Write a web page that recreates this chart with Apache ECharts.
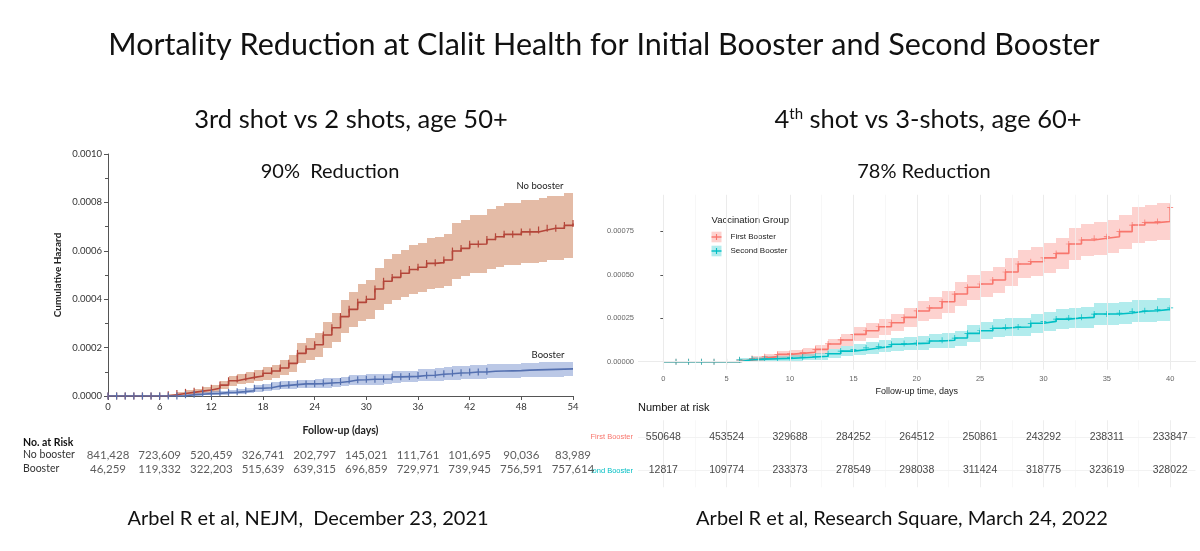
<!DOCTYPE html>
<html><head><meta charset="utf-8">
<script src="https://cdn.jsdelivr.net/npm/echarts@6/dist/echarts.min.js"></script>
<style>html,body{margin:0;padding:0;background:#fff}#c{width:1200px;height:551px}</style>
</head><body><div id="c"></div>
<script>
// ---------------- DATA ----------------
// Left panel (3rd shot vs 2 shots, age 50+): cumulative hazard per day 0..54
const leftDays = [0,1,2,3,4,5,6,7,8,9,10,11,12,13,14,15,16,17,18,19,20,21,22,23,24,25,26,27,28,29,30,31,32,33,34,35,36,37,38,39,40,41,42,43,44,45,46,47,48,49,50,51,52,53,54];
const noBoosterHazard = [0,0,0,0,0,0,0,0.000005,0.00001,0.000015,0.00002,0.000025,0.000032,0.000045,0.000063,0.00007,0.000077,0.000083,0.000094,0.000103,0.000116,0.000135,0.000176,0.000194,0.000212,0.000252,0.000282,0.000328,0.000358,0.000387,0.0004,0.000442,0.000474,0.00049,0.000507,0.000523,0.000532,0.000548,0.000551,0.000562,0.000599,0.00061,0.000627,0.000628,0.000647,0.000658,0.000668,0.000668,0.000678,0.000678,0.000686,0.000693,0.000693,0.000705,0.000713];
const noBoosterLower = [0,0,0,0,0,0,0,0.000001,0.000003,0.000006,0.00001,0.000013,0.000018,0.000028,0.000043,0.000049,0.000055,0.00006,0.000068,0.000075,0.000085,0.0001,0.000135,0.00015,0.000163,0.000197,0.000222,0.00026,0.000285,0.00031,0.00032,0.000355,0.00038,0.000395,0.00041,0.000422,0.00043,0.000443,0.000446,0.000455,0.000484,0.000494,0.000507,0.000508,0.000523,0.000532,0.00054,0.00054,0.000548,0.000548,0.000555,0.00056,0.00056,0.00057,0.000578];
const noBoosterUpper = [0,0,0,0,0,0,0.000002,0.00001,0.000017,0.000024,0.00003,0.000037,0.000046,0.000062,0.000083,0.000091,0.0001,0.000107,0.00012,0.00013,0.000147,0.00017,0.000218,0.000238,0.00026,0.000307,0.000342,0.000396,0.00043,0.000464,0.00048,0.000528,0.000566,0.000585,0.000604,0.000624,0.000634,0.000653,0.000656,0.000669,0.000714,0.000726,0.000747,0.000748,0.000771,0.000784,0.000796,0.000796,0.000808,0.000808,0.000817,0.000826,0.000826,0.00084,0.000848];
const boosterHazard = [0,0,0,0,0,0,0,0,0,0.000005,0.000007,0.00001,0.000011,0.000014,0.000015,0.000018,0.000022,0.000032,0.000034,0.000041,0.000044,0.000047,0.00005,0.00005,0.000051,0.000054,0.000056,0.00006,0.000066,0.000067,0.000069,0.000069,0.00007,0.000079,0.00008,0.000081,0.000085,0.000086,0.00009,0.000092,0.000095,0.000096,0.000099,0.000099,0.000102,0.000103,0.000104,0.000105,0.000107,0.000108,0.000109,0.00011,0.000111,0.000112,0.000113];
const boosterLower = [0,0,0,0,0,0,0,0,0,0.000001,0.000002,0.000003,0.000004,0.000006,0.000007,0.000008,0.000011,0.000018,0.00002,0.000025,0.000027,0.00003,0.000032,0.000032,0.000033,0.000035,0.000037,0.00004,0.000045,0.000046,0.000047,0.000047,0.000048,0.000055,0.000056,0.000057,0.00006,0.000061,0.000064,0.000066,0.000068,0.000069,0.000071,0.000071,0.000073,0.000074,0.000075,0.000076,0.000077,0.000078,0.000079,0.00008,0.00008,0.000081,0.000082];
const boosterUpper = [0,0,0,0,0,0,0,0.000002,0.000005,0.00001,0.000013,0.000017,0.000019,0.000022,0.000024,0.000028,0.000033,0.000046,0.000048,0.000057,0.000061,0.000064,0.000068,0.000068,0.000069,0.000073,0.000075,0.00008,0.000087,0.000088,0.000091,0.000091,0.000092,0.000103,0.000104,0.000105,0.00011,0.000111,0.000116,0.000118,0.000122,0.000123,0.000127,0.000127,0.000131,0.000132,0.000133,0.000134,0.000137,0.000138,0.000139,0.00014,0.000141,0.000142,0.000143];
const boosterLastTickDay = 44;
const leftXTicks = [0,6,12,18,24,30,36,42,48,54];
const noBoosterAtRisk = [841428,723609,520459,326741,202797,145021,111761,101695,90036,83989];
const boosterAtRisk   = [46259,119332,322203,515639,639315,696859,729971,739945,756591,757614];

// Right panel (4th shot vs 3 shots, age 60+): cumulative hazard per day 0..40
const rightDays = [0,1,2,3,4,5,6,7,8,9,10,11,12,13,14,15,16,17,18,19,20,21,22,23,24,25,26,27,28,29,30,31,32,33,34,35,36,37,38,39,40];
const firstBoosterHazard = [0,0,0,0,0,0,0.0000096,0.000019,0.000029,0.000042,0.000048,0.000054,0.000071,0.000102,0.000125,0.000157,0.000178,0.000201,0.000224,0.000255,0.000292,0.000309,0.000345,0.000389,0.000428,0.000447,0.00047,0.000516,0.000562,0.000575,0.000597,0.000623,0.000677,0.0007,0.00071,0.000719,0.000748,0.000786,0.0008,0.000806,0.000888];
const firstBoosterLower = [0,0,0,0,0,0,0.000001,0.000005,0.000012,0.000022,0.000027,0.000031,0.000045,0.000071,0.00009,0.000117,0.000135,0.000154,0.000174,0.000201,0.000233,0.000248,0.000281,0.000322,0.000357,0.000374,0.000395,0.000437,0.00048,0.000492,0.000512,0.000535,0.000585,0.000606,0.000615,0.000623,0.00065,0.000685,0.000697,0.000702,0.000702];
const firstBoosterUpper = [0,0,0,0,0,0,0.000018,0.000033,0.000046,0.000062,0.000069,0.000077,0.000097,0.000133,0.00016,0.000197,0.000221,0.000248,0.000274,0.000309,0.000351,0.00037,0.000409,0.000456,0.000499,0.00052,0.000545,0.000595,0.000644,0.000658,0.000682,0.000711,0.000769,0.000794,0.000805,0.000815,0.000846,0.000887,0.000903,0.00091,0.00091];
const secondBoosterHazard = [0,0,0,0,0,0,0.000011,0.000015,0.000017,0.000019,0.000023,0.000027,0.000031,0.000046,0.000061,0.000069,0.000079,0.000088,0.0001,0.000104,0.000107,0.000119,0.000123,0.000136,0.000163,0.000178,0.000192,0.000198,0.0002,0.000221,0.000232,0.000245,0.000251,0.000255,0.000274,0.000274,0.00028,0.00029,0.000293,0.000301,0.000309];
const secondBoosterLower = [0,0,0,0,0,0,0,0.000002,0.000003,0.000004,0.000006,0.000008,0.00001,0.000021,0.000032,0.000038,0.000046,0.000053,0.000063,0.000066,0.000068,0.000078,0.000081,0.000093,0.000116,0.000129,0.000141,0.000146,0.000148,0.000166,0.000176,0.000187,0.000192,0.000196,0.000212,0.000212,0.000217,0.000226,0.000229,0.000236,0.000243];
const secondBoosterUpper = [0,0,0,0,0,0,0.000022,0.000028,0.000031,0.000034,0.00004,0.000046,0.000052,0.000071,0.00009,0.0001,0.000112,0.000123,0.000137,0.000142,0.000146,0.00016,0.000165,0.000179,0.00021,0.000227,0.000243,0.00025,0.000252,0.000276,0.000288,0.000303,0.00031,0.000314,0.000336,0.000336,0.000343,0.000354,0.000357,0.000366,0.000366];
const secondBoosterFirstTickDay = 1;
const rightXTicks = [0,5,10,15,20,25,30,35,40];
const rightXMinor = [2.5,7.5,12.5,17.5,22.5,27.5,32.5,37.5];
const rightYTicks = [0,0.00025,0.0005,0.00075];
const rightYMinor = [0.000125,0.000375,0.000625,0.000875];
const firstBoosterAtRisk  = [550648,453524,329688,284252,264512,250861,243292,238311,233847];
const secondBoosterAtRisk = [12817,109774,233373,278549,298038,311424,318775,323619,328022];

// ---------------- CHART ----------------
const chart = echarts.init(document.getElementById('c'), null, {renderer:'canvas'});
const SANS = 'Lato';
const ARIAL = 'Liberation Sans';
const C = {
  nbLine:'#b4463a', nbBand:'rgba(212,146,112,0.62)',
  bLine:'#5470b0', bBand:'rgba(120,145,205,0.5)',
  fbLine:'#F8766D', fbBand:'rgba(248,118,109,0.33)',
  sbLine:'#00BFC4', sbBand:'rgba(0,191,196,0.3)'
};
// confidence band: one rectangle per step interval [day, nextDay] between lower and upper
function band(xi, days, lo, hi, color) {
  const data = days.slice(0, -1).map((d, i) => [d, days[i + 1], hi[i], lo[i]]);
  return {type:'custom', xAxisIndex:xi, yAxisIndex:xi, silent:true, z:2,
    encode:{x:[0,1], y:[2,3]},
    renderItem:(params, api) => {
      const a = api.coord([api.value(0), api.value(2)]);
      const b = api.coord([api.value(1), api.value(3)]);
      const x0 = Math.round(a[0]), x1 = Math.round(b[0]);
      const y0 = Math.round(a[1]), y1 = Math.round(b[1]);
      if (y1 - y0 <= 0) return null;
      return {type:'rect', shape:{x:x0, y:y0, width:x1 - x0, height:y1 - y0}, style:{fill:color}};
    },
    data};
}
const tickSym = 'path://M0,0H1V1H0Z';
const plusSym = 'path://M0,4.4H10V5.6H0Z M4.4,0H5.6V10H4.4Z';
function stepLine(xi, days, vals, color, sym, size, lastTick, firstTick) {
  const hasTick = d => (lastTick === undefined || d <= lastTick) && (firstTick === undefined || d >= firstTick);
  return {type:'line', xAxisIndex:xi, yAxisIndex:xi, step:'end', showAllSymbol:true,
    symbol:sym, symbolSize:size, lineStyle:{color:color, width:1.6}, itemStyle:{color:color},
    data: days.map((d,i)=> hasTick(d) ? [d, vals[i]] : {value:[d, vals[i]], symbol:'none'}), z:4};
}
const gl = (axis, vals, color, w) => vals.map(v => ({[axis]: v, lineStyle:{color:color, width:w, type:'solid'}}));

const rightGridLines = {type:'line', xAxisIndex:1, yAxisIndex:1, data:[[0,0]], symbol:'none', lineStyle:{opacity:0}, silent:true, z:1,
  markLine:{silent:true, symbol:'none', label:{show:false}, animation:false,
    data: [...gl('xAxis', rightXMinor, '#f4f4f4', 0.7), ...gl('xAxis', rightXTicks, '#ebebeb', 1),
           ...gl('yAxis', rightYMinor, '#f4f4f4', 0.7), ...gl('yAxis', rightYTicks, '#ebebeb', 1)]}};

const riskLabel = (color, size, font, fmt) => ({show:true, position:'inside', color:color, fontSize:size, fontFamily:font,
  formatter: p => fmt(p.value[2])});

const option = {
  animation:false,
  backgroundColor:'#ffffff',
  grid:[
    {left:108, top:154, width:465, height:242},
    {left:638, top:194.8, width:557.5, height:174.9},
    {left:108, top:448, width:465, height:28},
    {left:638, top:420.25, width:557.5, height:67}
  ],
  xAxis:[
    {gridIndex:0, type:'value', min:0, max:54, interval:6,
     name:'Follow-up (days)', nameLocation:'middle', nameGap:29,
     nameTextStyle:{fontFamily:SANS, fontSize:10.5, fontWeight:'bold', color:'#222'},
     axisLine:{lineStyle:{color:'#555', width:1}}, axisTick:{length:4, lineStyle:{color:'#555'}},
     axisLabel:{fontFamily:SANS, fontSize:9.5, color:'#333', margin:6}, splitLine:{show:false}},
    {gridIndex:1, type:'value', min:-2, max:42,
     name:'Follow-up time, days', nameLocation:'middle', nameGap:17,
     nameTextStyle:{fontFamily:ARIAL, fontSize:9, color:'#1a1a1a'},
     axisLine:{show:false}, axisTick:{show:true, length:3, lineStyle:{color:'#555'}, customValues:rightXTicks},
     axisLabel:{fontFamily:ARIAL, fontSize:7.5, color:'#666', margin:5, customValues:rightXTicks}, splitLine:{show:false}},
    {gridIndex:2, type:'value', min:0, max:54, show:false},
    {gridIndex:3, type:'value', min:-2, max:42, show:false}
  ],
  yAxis:[
    {gridIndex:0, type:'value', min:0, max:0.001, interval:0.0002,
     name:'Cumulative Hazard', nameLocation:'middle', nameRotate:90, nameGap:45,
     nameTextStyle:{fontFamily:SANS, fontSize:10, fontWeight:'bold', color:'#222'},
     axisLine:{show:true, lineStyle:{color:'#555'}}, axisTick:{show:true, length:4, lineStyle:{color:'#555'}},
     minorTick:{show:true, splitNumber:2, length:3, lineStyle:{color:'#555'}},
     axisLabel:{fontFamily:SANS, fontSize:9.5, color:'#333', margin:6, formatter:v=>v.toFixed(4)}, splitLine:{show:false}},
    {gridIndex:1, type:'value', min:-0.000046, max:0.00096,
     axisLine:{show:false}, axisTick:{show:true, length:3, lineStyle:{color:'#555'}, customValues:rightYTicks},
     axisLabel:{fontFamily:ARIAL, fontSize:7.5, color:'#666', margin:4, customValues:rightYTicks, formatter:v=>v.toFixed(5)},
     splitLine:{show:false}},
    {gridIndex:2, type:'category', data:['Booster','No booster'],
     axisLine:{show:false}, axisTick:{show:false},
     axisLabel:{interval:0, hideOverlap:false, fontFamily:SANS, fontSize:10.5, color:'#333', align:'left', margin:85}},
    {gridIndex:3, type:'category', data:['Second Booster','First Booster'],
     axisLine:{show:false}, axisTick:{show:true, interval:0, length:3, alignWithLabel:true, lineStyle:{color:'#999'}},
     axisLabel:{interval:0, hideOverlap:false, fontFamily:ARIAL, fontSize:7.5, margin:5,
       formatter:v=> v==='First Booster' ? '{fb|'+v+'}' : '{sb|'+v+'}',
       rich:{fb:{color:'#F8766D', fontSize:7.5, fontFamily:ARIAL}, sb:{color:'#00BFC4', fontSize:7.5, fontFamily:ARIAL}}}}
  ],
  series:[
    band(0, leftDays, noBoosterLower, noBoosterUpper, C.nbBand),
    band(0, leftDays, boosterLower, boosterUpper, C.bBand),
    stepLine(0, leftDays, noBoosterHazard, C.nbLine, tickSym, [1.2, 7]),
    stepLine(0, leftDays, boosterHazard, C.bLine, tickSym, [1.2, 7], boosterLastTickDay),
    rightGridLines,
    band(1, rightDays, firstBoosterLower, firstBoosterUpper, C.fbBand),
    band(1, rightDays, secondBoosterLower, secondBoosterUpper, C.sbBand),
    stepLine(1, rightDays, firstBoosterHazard, C.fbLine, plusSym, 6),
    stepLine(1, rightDays, secondBoosterHazard, C.sbLine, plusSym, 6, undefined, secondBoosterFirstTickDay),
    // left risk table
    {type:'scatter', xAxisIndex:2, yAxisIndex:2, symbolSize:0.1, itemStyle:{color:'rgba(0,0,0,0)'}, silent:true,
     label: riskLabel('#333', 11.5, SANS, n=>Number(n).toLocaleString('en-US')),
     data:[...leftXTicks.map((d,i)=>[d,'No booster',noBoosterAtRisk[i]]), ...leftXTicks.map((d,i)=>[d,'Booster',boosterAtRisk[i]])], z:5},
    // right risk table grid lines
    {type:'line', xAxisIndex:3, yAxisIndex:3, data:[[0,'First Booster']], symbol:'none', lineStyle:{opacity:0}, silent:true, z:1,
     markLine:{silent:true, symbol:'none', label:{show:false}, animation:false,
       data:[...gl('xAxis', rightXMinor, '#f5f5f5', 0.7), ...gl('xAxis', rightXTicks, '#eeeeee', 1),
             {yAxis:'First Booster', lineStyle:{color:'#f2f2f2', width:1, type:'solid'}},
             {yAxis:'Second Booster', lineStyle:{color:'#f2f2f2', width:1, type:'solid'}}]}},
    // right risk table numbers
    {type:'scatter', xAxisIndex:3, yAxisIndex:3, symbolSize:0.1, itemStyle:{color:'rgba(0,0,0,0)'}, silent:true,
     label: riskLabel('#111', 10.5, ARIAL, n=>String(n)),
     data:[...rightXTicks.map((d,i)=>[d,'First Booster',firstBoosterAtRisk[i]]), ...rightXTicks.map((d,i)=>[d,'Second Booster',secondBoosterAtRisk[i]])], z:5}
  ],
  graphic:[
    {type:'text', x:604, y:45, style:{text:'Mortality Reduction at Clalit Health for Initial Booster and Second Booster', fontFamily:SANS, fontSize:30.5, fill:'#111', textAlign:'center', textVerticalAlign:'middle'}},
    {type:'text', x:351, y:120, style:{text:'3rd shot vs 2 shots, age 50+', fontFamily:SANS, fontSize:25.5, fill:'#111', textAlign:'center', textVerticalAlign:'middle'}},
    {type:'text', x:928, y:120, style:{text:'{n|4}{s|th}{n| shot vs 3-shots, age 60+}', textAlign:'center', textVerticalAlign:'middle',
      rich:{n:{fontFamily:SANS, fontSize:25.5, fill:'#111'}, s:{fontFamily:SANS, fontSize:15, fill:'#111', verticalAlign:'top'}}}},
    {type:'text', x:330, y:172, style:{text:'90%  Reduction', fontFamily:SANS, fontSize:20, fill:'#111', textAlign:'center', textVerticalAlign:'middle'}},
    {type:'text', x:924, y:172, style:{text:'78% Reduction', fontFamily:SANS, fontSize:20, fill:'#111', textAlign:'center', textVerticalAlign:'middle'}},
    {type:'text', x:540, y:186, style:{text:'No booster', fontFamily:SANS, fontSize:9.5, fill:'#222', textAlign:'center', textVerticalAlign:'middle'}},
    {type:'text', x:548, y:355, style:{text:'Booster', fontFamily:SANS, fontSize:9.5, fill:'#222', textAlign:'center', textVerticalAlign:'middle'}},
    {type:'text', x:23, y:443, style:{text:'No. at Risk', fontFamily:SANS, fontSize:10.5, fontWeight:'bold', fill:'#111', textAlign:'left', textVerticalAlign:'middle'}},
    {type:'text', x:638, y:408, style:{text:'Number at risk', fontFamily:ARIAL, fontSize:11, fill:'#111', textAlign:'left', textVerticalAlign:'middle'}},
    {type:'text', x:308, y:519, style:{text:'Arbel R et al, NEJM,  December 23, 2021', fontFamily:SANS, fontSize:20, fill:'#111', textAlign:'center', textVerticalAlign:'middle'}},
    {type:'text', x:902, y:519, style:{text:'Arbel R et al, Research Square, March 24, 2022', fontFamily:SANS, fontSize:20, fill:'#111', textAlign:'center', textVerticalAlign:'middle'}},
    // legend
    {type:'text', x:711.5, y:220, style:{text:'Vaccination Group', fontFamily:ARIAL, fontSize:9.5, fill:'#1a1a1a', textAlign:'left', textVerticalAlign:'middle'}},
    {type:'rect', shape:{x:711.5, y:231.7, width:10, height:10.6}, style:{fill:C.fbBand}},
    {type:'line', shape:{x1:711.5, y1:237, x2:721.5, y2:237}, style:{stroke:C.fbLine, lineWidth:1.4}},
    {type:'line', shape:{x1:716.5, y1:234, x2:716.5, y2:240}, style:{stroke:C.fbLine, lineWidth:1.1}},
    {type:'rect', shape:{x:711.5, y:245.7, width:10, height:10.6}, style:{fill:C.sbBand}},
    {type:'line', shape:{x1:711.5, y1:251, x2:721.5, y2:251}, style:{stroke:C.sbLine, lineWidth:1.4}},
    {type:'line', shape:{x1:716.5, y1:248, x2:716.5, y2:254}, style:{stroke:C.sbLine, lineWidth:1.1}},
    {type:'text', x:730.5, y:237, style:{text:'First Booster', fontFamily:ARIAL, fontSize:8, fill:'#1a1a1a', textAlign:'left', textVerticalAlign:'middle'}},
    {type:'text', x:730.5, y:251, style:{text:'Second Booster', fontFamily:ARIAL, fontSize:8, fill:'#1a1a1a', textAlign:'left', textVerticalAlign:'middle'}},
    // the right panel is cut at its left edge in the source image
    {type:'rect', z:1, shape:{x:560, y:462, width:31.5, height:16}, style:{fill:'#ffffff'}}
  ]
};
chart.setOption(option);
</script></body></html>
